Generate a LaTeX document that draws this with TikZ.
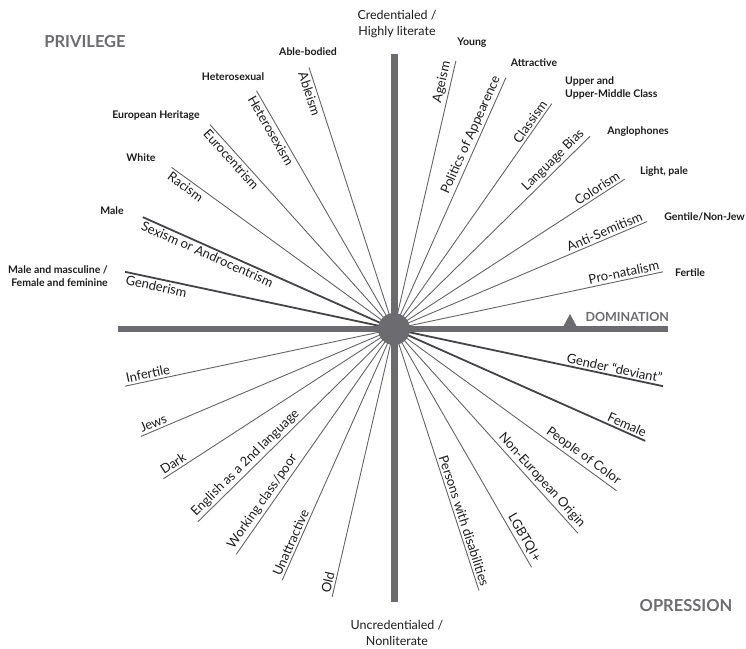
\documentclass[tikz,border=0pt]{standalone}
\usepackage{fontspec}
\setmainfont{Lato}
\usepackage{tikz}
\usetikzlibrary{calc}
\definecolor{axisgrey}{RGB}{108,108,112}
\definecolor{raygrey}{RGB}{100,100,104}
\definecolor{raydark}{RGB}{68,68,72}
\definecolor{textdark}{RGB}{28,28,30}
\tikzset{
  axisline/.style={line width=7pt, draw=axisgrey},
  ray/.style={line width=0.9pt, draw=raygrey},
  raybold/.style={line width=1.8pt, draw=raydark},
  raylabel/.style={font=\fontsize{13}{15}\selectfont, text=textdark, inner sep=2.5pt},
  endlabel/.style={font=\bfseries\fontsize{10.5}{13}\selectfont, text=textdark, inner sep=0pt},
  poletext/.style={font=\fontsize{12.5}{16}\selectfont, align=center, text=textdark},
  cornertext/.style={font=\bfseries\fontsize{16.5}{18}\selectfont, text=axisgrey}
}
\begin{document}
\begin{tikzpicture}[x=1pt,y=1pt]
  \useasboundingbox (0,0) rectangle (746,648);
  \coordinate (c) at (394,319);
  \coordinate (top) at (394,594);
  \coordinate (bottom) at (394,46);
  \coordinate (left) at (118,319);
  \coordinate (right) at (668,319);

  % privileged ends upper left, oppressed ends lower right
  \foreach \a/\kind/\up/\down [count=\i] in {
      108/ray/Ableism/Persons with disabilities,
      120/ray/Heterosexism/LGBTQI+,
      132/ray/Eurocentrism/Non-European Origin,
      144/ray/Racism/People of Color,
      156/raybold/Sexism or Androcentrism/Female,
      168/raybold/Genderism/Gender ``deviant''}{
    \coordinate (pl\i) at ($(c)+(\a:275)$);
    \coordinate (ol\i) at ($(c)+(\a+180:275)$);
    \draw[\kind] (pl\i) -- (ol\i);
    \node[raylabel, rotate=\a-180, anchor=north west] (lpl\i) at (pl\i) {\up};
    \node[raylabel, rotate=\a-180, anchor=south east] (lol\i) at (ol\i) {\down};
  }

  % privileged ends upper right, oppressed ends lower left
  \foreach \b/\up/\down [count=\i] in {
      12/Pro-natalism/Infertile,
      23/Anti-Semitism/Jews,
      33/Colorism/Dark,
      44.5/Language Bias/English as a 2nd language,
      55/Classism/{Working class/poor},
      66/Politics of Appearence/Unattractive,
      77/Ageism/Old}{
    \coordinate (pr\i) at ($(c)+(\b:275)$);
    \coordinate (or\i) at ($(c)+(\b+180:275)$);
    \draw[ray] (pr\i) -- (or\i);
    \node[raylabel, rotate=\b, anchor=south east] (lpr\i) at (pr\i) {\up};
    \node[raylabel, rotate=\b, anchor=south west] (lor\i) at (or\i) {\down};
  }

  % axes and hub
  \draw[axisline] (top) -- (bottom);
  \draw[axisline, line width=6pt] (left) -- (right);
  \node[circle, fill=axisgrey, minimum size=32pt, inner sep=0pt] (hub) at (c) {};
  \fill[axisgrey] (563,321) -- (570,334) -- (577,321) -- cycle;

  % privileged groups
  \node[endlabel] (ablebodied) at (308,596) {Able-bodied};
  \node[endlabel] (hetero) at (233,571) {Heterosexual};
  \node[endlabel] (european) at (156,532) {European Heritage};
  \node[endlabel] (white) at (141,490) {White};
  \node[endlabel] (male) at (112,437) {Male};
  \node[endlabel, align=right, anchor=east] (masc) at (108,372)
    {Male and masculine /\\Female and feminine};
  \node[endlabel] (young) at (472,605) {Young};
  \node[endlabel] (attractive) at (534,585) {Attractive};
  \node[endlabel, align=left, anchor=west] (upper) at (565,560.5)
    {Upper and\\Upper-Middle Class};
  \node[endlabel] (anglo) at (638,516) {Anglophones};
  \node[endlabel] (light) at (664,476) {Light, pale};
  \node[endlabel, anchor=east] (gentile) at (745,431) {Gentile/Non-Jew};
  \node[endlabel] (fertile) at (690,375) {Fertile};

  % poles
  \node[poletext] (cred) at (397,624) {Credentialed /\\Highly literate};
  \node[poletext] (uncred) at (397,15) {Uncredentialed /\\Nonliterate};
  \node[cornertext] (privilege) at (85,606) {PRIVILEGE};
  \node[cornertext] (opression) at (686,42) {OPRESSION};
  \node[cornertext, font=\bfseries\fontsize{12.5}{14}\selectfont, anchor=west]
    (domination) at (582,331) {DOMINATION};
\end{tikzpicture}
\end{document}
